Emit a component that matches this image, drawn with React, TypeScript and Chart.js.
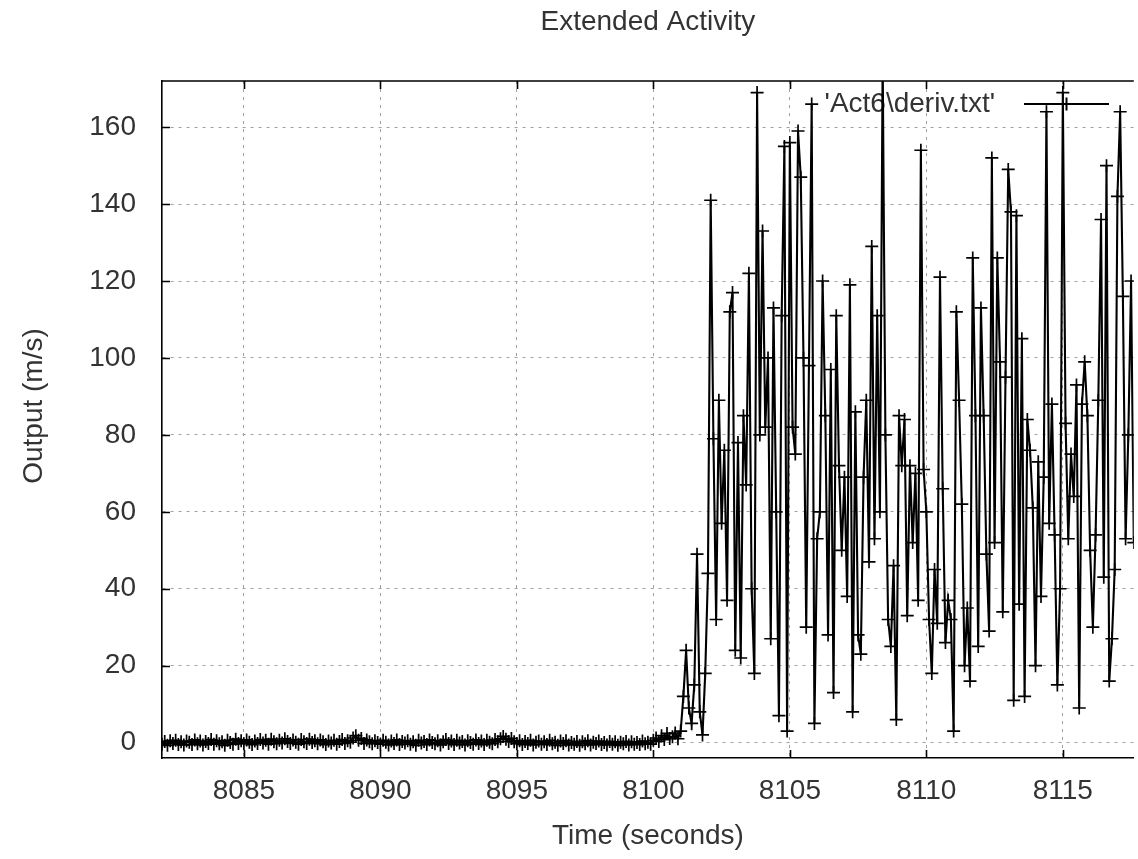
import { useEffect, useRef } from "react";
import { Chart, registerables } from "chart.js";

Chart.register(...registerables);

const TITLE = "Extended Activity";
const X_LABEL = "Time (seconds)";
const Y_LABEL = "Output (m/s)";
const SERIES_LABEL = "'Act6\\deriv.txt'";

const START_TIME = 8082.0;
const SAMPLE_STEP = 0.1;

const X_TICKS = [8085, 8090, 8095, 8100, 8105, 8110, 8115];
const Y_TICKS = [0, 20, 40, 60, 80, 100, 120, 140, 160];
const X_MIN = 8082;
const X_MAX = 8117.6;
const Y_MIN = -4;
const Y_MAX = 172;

// 8082.0 .. 8100.6 (quiet phase)
const BASELINE_VALUES = [
  -0.4, 0.3, -0.7, 0.5, -0.2, 0.6, -0.5, 0.2, -0.6, 0.4,
  0.1, -0.5, 0.7, -0.3, 0.4, -0.6, 0.3, -0.2, 0.8, -0.4,
  0.5, -0.3, 0.2, -0.7, 0.6, 0.0, -0.4, 0.9, -0.2, 0.5,
  -0.3, 0.7, 0.1, -0.5, 0.4, -0.2, 0.8, -0.1, 0.6, -0.4,
  0.9, 0.2, -0.3, 0.6, -0.1, 1.0, 0.3, -0.2, 0.7, 0.1,
  -0.4, 0.8, 0.2, -0.2, 0.9, 0.0, 0.5, -0.3, 0.7, 0.2,
  -0.5, 0.4, -0.1, 0.6, -0.4, 0.3, 0.8, -0.2, 0.5, 0.1,
  1.2, 1.8, 0.6, 1.1, -0.2, 0.7, 0.2, -0.3, 0.5, 0.0,
  -0.4, 0.6, 0.1, -0.6, 0.4, -0.2, 0.7, -0.5, 0.3, -0.1,
  0.5, -0.4, 0.2, -0.7, 0.6, -0.1, 0.3, -0.5, 0.7, 0.0,
  -0.3, 0.5, -0.6, 0.2, 0.8, -0.2, 0.4, -0.5, 0.6, -0.1,
  0.3, -0.6, 0.5, 0.0, -0.4, 0.7, -0.2, 0.4, -0.5, 0.6,
  0.1, -0.3, 0.8, 0.2, 1.0, 1.6, 0.9, 0.3, 1.1, 0.2,
  -0.3, 0.5, -0.5, 0.3, -0.2, 0.6, -0.6, 0.1, 0.4, -0.4,
  0.2, -0.5, 0.6, -0.3, 0.1, -0.7, 0.4, -0.2, 0.5, -0.6,
  0.0, -0.4, 0.3, -0.7, 0.2, -0.3, 0.5, -0.6, 0.1, -0.2,
  0.4, -0.5, 0.0, -0.6, 0.3, -0.4, 0.2, -0.7, 0.1, -0.3,
  0.3, -0.6, 0.2, -0.4, 0.0, -0.5, 0.4, -0.3, 0.1, -0.4,
  0.6, 1.2, 0.3, 1.8, 0.8, 2.4, 1.1,
];

// 8100.7 .. 8117.7 (active phase)
const ACTIVE_VALUES = [
  1.5, 2.5, 1.0,
  3.0, 12, 24, 9, 5, 15, 49, 8, 2, 18,
  44, 141, 79, 32, 89, 57, 76, 37, 112, 117,
  24, 78, 22, 85, 67, 122, 40, 18, 169, 80,
  133, 82, 100, 27, 113, 60, 7, 111, 155, 3,
  156, 82, 75, 159, 147, 100, 30, 98, 166, 5,
  53, 60, 120, 85, 28, 97, 13, 111, 72, 50,
  69, 38, 119, 8, 86, 28, 23, 69, 89, 47,
  129, 53, 111, 60, 178, 80, 32, 25, 46, 6,
  85, 72, 84, 33, 72, 52, 70, 37, 154, 71,
  60, 32, 18, 45, 31, 121, 66, 26, 37, 32,
  3, 112, 89, 62, 20, 35, 16, 126, 85, 25,
  113, 85, 49, 29, 152, 52, 126, 99, 34, 95,
  149, 138, 11, 137, 36, 105, 12, 84, 76, 61,
  20, 73, 38, 69, 164, 57, 88, 54, 15, 40,
  169, 83, 53, 75, 64, 93, 9, 88, 99, 85,
  50, 30, 54, 89, 136, 43, 150, 16, 27, 45,
  142, 164, 116, 53, 80, 120, 52, 140,
];

const FONT_FAMILY = '"Liberation Sans", Arial, sans-serif';
const FONT_SIZE = 28;
const TEXT_COLOR = "#333";
const INK = "#000";

const frameAndLegend = {
  id: "frameAndLegend",
  beforeDatasetsDraw(chart: any) {
    const { ctx } = chart;
    const { left, right, top } = chart.chartArea;
    const ds = chart.data.datasets[0];
    ctx.save();
    ctx.font = `${FONT_SIZE}px ${FONT_FAMILY}`;
    ctx.fillStyle = TEXT_COLOR;
    ctx.textBaseline = "middle";
    // chart title, centred over the plot area
    ctx.textAlign = "center";
    ctx.fillText(TITLE, (left + right) / 2, 22);
    // y axis label
    ctx.save();
    ctx.translate(34, 406);
    ctx.rotate(-Math.PI / 2);
    ctx.fillText(Y_LABEL, 0, 0);
    ctx.restore();
    // key
    ctx.textAlign = "right";
    const y = top + 23;
    ctx.fillText(ds.label, 995, y);
    ctx.strokeStyle = INK;
    ctx.lineWidth = 2;
    ctx.beginPath();
    ctx.moveTo(1024, y);
    ctx.lineTo(1109, y);
    ctx.moveTo(1066.5, y - 6.5);
    ctx.lineTo(1066.5, y + 6.5);
    ctx.stroke();
    ctx.restore();
  },
  afterDraw(chart: any) {
    const { ctx } = chart;
    const { left, right, top, bottom } = chart.chartArea;
    const xs = chart.scales.x;
    const ys = chart.scales.y;
    ctx.save();
    ctx.strokeStyle = INK;
    ctx.lineWidth = 1.6;
    ctx.beginPath();
    ctx.moveTo(left, top);
    ctx.lineTo(right, top);
    X_TICKS.forEach((v) => {
      const px = Math.round(xs.getPixelForValue(v)) + 0.5;
      ctx.moveTo(px, bottom);
      ctx.lineTo(px, bottom - 8);
      ctx.moveTo(px, top);
      ctx.lineTo(px, top + 8);
    });
    Y_TICKS.forEach((v) => {
      const py = Math.round(ys.getPixelForValue(v)) + 0.5;
      ctx.moveTo(left, py);
      ctx.lineTo(left + 8, py);
    });
    ctx.stroke();
    ctx.restore();
  },
};

export default function App() {
  const canvasRef = useRef<HTMLCanvasElement | null>(null);

  useEffect(() => {
    const canvas = canvasRef.current;
    if (!canvas) return;
    const values = [...BASELINE_VALUES, ...ACTIVE_VALUES];
    const points = values.map((v, i) => ({
      x: Math.round((START_TIME + i * SAMPLE_STEP) * 100) / 100,
      y: v,
    }));

    const tickFont = { family: FONT_FAMILY, size: FONT_SIZE };

    const chart = new Chart(canvas, {
      type: "line",
      data: {
        datasets: [
          {
            label: SERIES_LABEL,
            data: points,
            borderColor: INK,
            borderWidth: 2.1,
            pointStyle: "cross",
            pointRadius: 6.5,
            pointBorderWidth: 1.7,
            pointBorderColor: INK,
            pointBackgroundColor: INK,
            tension: 0,
            fill: false,
          },
        ],
      },
      options: {
        responsive: false,
        animation: false,
        events: [],
        layout: { padding: { left: 0, right: 2, top: 81, bottom: 0 } },
        plugins: {
          legend: { display: false },
          tooltip: { enabled: false },
          title: { display: false },
        },
        scales: {
          x: {
            type: "linear",
            min: X_MIN,
            max: X_MAX,
            afterBuildTicks: (scale: any) => {
              scale.ticks = X_TICKS.map((v) => ({ value: v }));
            },
            afterFit: (scale: any) => {
              scale.height = 101;
            },
            ticks: {
              color: TEXT_COLOR,
              font: tickFont,
              padding: 16,
              maxRotation: 0,
              autoSkip: false,
              callback: (v: any) => String(v),
            },
            grid: {
              color: "#a0a0a0",
              lineWidth: 1,
              drawTicks: false,
            },
            border: { display: true, color: INK, width: 1.6, dash: [3, 5] },
            title: {
              display: true,
              text: X_LABEL,
              color: TEXT_COLOR,
              font: tickFont,
              padding: { top: 0, bottom: 6 },
            },
          },
          y: {
            type: "linear",
            min: Y_MIN,
            max: Y_MAX,
            afterBuildTicks: (scale: any) => {
              scale.ticks = Y_TICKS.map((v) => ({ value: v }));
            },
            afterFit: (scale: any) => {
              scale.width = 162;
            },
            ticks: {
              color: TEXT_COLOR,
              font: tickFont,
              padding: 26,
              autoSkip: false,
              callback: (v: any) => String(v),
            },
            grid: {
              color: "#a0a0a0",
              lineWidth: 1,
              drawTicks: false,
            },
            border: { display: true, color: INK, width: 1.6, dash: [3, 5] },
          },
        },
      },
      plugins: [frameAndLegend],
    } as any);

    return () => chart.destroy();
  }, []);

  return (
    <div
      style={{
        position: "fixed",
        left: 0,
        top: 0,
        width: 1138,
        height: 859,
        overflow: "hidden",
        background: "#fff",
      }}
    >
      <canvas ref={canvasRef} width={1142} height={859} style={{ display: "block" }} />
    </div>
  );
}
